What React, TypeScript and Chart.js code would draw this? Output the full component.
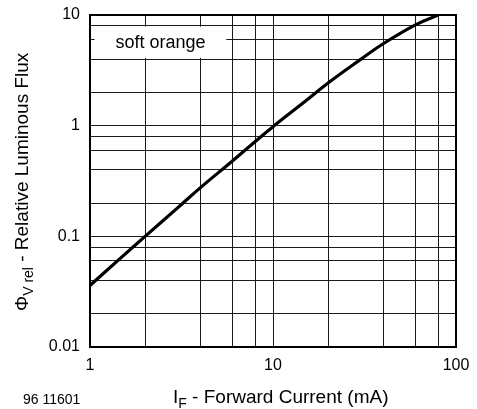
import React, { useEffect, useRef } from "react";
import { Chart, registerables } from "chart.js";

Chart.register(...registerables);

// Forward current (mA) and relative luminous flux
const currentMA = [1, 1.5, 2, 3, 4, 6, 8, 10, 15, 20, 30, 40, 60, 80];
const relFlux = [0.036, 0.0655, 0.1, 0.18, 0.274, 0.48, 0.72, 0.98, 1.66, 2.43, 3.95, 5.5, 8.15, 10];

// Grid lines and labelled ticks
const xGridValues = [1, 2, 4, 6, 8, 10, 20, 40, 60, 80, 100];
const yGridValues = [0.01, 0.02, 0.04, 0.06, 0.08, 0.1, 0.2, 0.4, 0.6, 0.8, 1, 2, 4, 6, 8, 10];
const xTickLabels = [1, 10, 100];
const yTickLabels = [0.01, 0.1, 1, 10];

const seriesLabel = "soft orange";
const figureId = "96 11601";

const FONT = "'Liberation Sans', Arial, Helvetica, sans-serif";

export default function App() {
  const ref = useRef<HTMLCanvasElement | null>(null);

  useEffect(() => {
    const canvas = ref.current;
    if (!canvas) return;

    const overlay = {
      id: "overlay",
      beforeDatasetsDraw(chart: any) {
        const { ctx, scales } = chart;
        const x = scales.x;
        const y = scales.y;
        const left = x.getPixelForValue(1.06);
        const right = x.getPixelForValue(5.55);
        const top = y.getPixelForValue(7.85);
        const bottom = y.getPixelForValue(4.1);
        ctx.save();
        ctx.fillStyle = "#fff";
        ctx.fillRect(left, top, right - left, bottom - top);
        ctx.fillStyle = "#000";
        ctx.font = `18px ${FONT}`;
        ctx.textAlign = "center";
        ctx.textBaseline = "alphabetic";
        ctx.fillText(seriesLabel, (left + right) / 2, (top + bottom) / 2 + 6);
        ctx.restore();
      },
      afterDatasetsDraw(chart: any) {
        const { ctx, chartArea } = chart;
        ctx.save();
        ctx.strokeStyle = "#000";
        ctx.lineWidth = 2;
        ctx.strokeRect(chartArea.left, chartArea.top, chartArea.right - chartArea.left, chartArea.bottom - chartArea.top);
        ctx.restore();
      },
      afterDraw(chart: any) {
        const { ctx } = chart;
        ctx.save();
        ctx.fillStyle = "#000";
        ctx.textBaseline = "alphabetic";
        ctx.textAlign = "left";

        // X title: I_F - Forward Current (mA)
        let cx = 173;
        const by = 403;
        ctx.font = `19px ${FONT}`;
        ctx.fillText("I", cx, by);
        cx += ctx.measureText("I").width;
        ctx.font = `14px ${FONT}`;
        ctx.fillText("F", cx, by + 5);
        cx += ctx.measureText("F").width;
        ctx.font = `19px ${FONT}`;
        ctx.fillText(" - Forward Current (mA)", cx, by);

        // Figure id
        ctx.font = `14px ${FONT}`;
        ctx.fillText(figureId, 23, 404);

        // Y title rotated
        ctx.save();
        ctx.translate(27.5, 311);
        ctx.rotate(-Math.PI / 2);
        let tx = 0;
        ctx.font = `19px ${FONT}`;
        ctx.fillText("\u03A6", tx, 0);
        tx += ctx.measureText("\u03A6").width;
        ctx.font = `14px ${FONT}`;
        ctx.fillText("V rel", tx, 5);
        tx += ctx.measureText("V rel").width;
        ctx.font = `19px ${FONT}`;
        ctx.fillText(" - Relative Luminous Flux", tx, 0);
        ctx.restore();

        ctx.restore();
      },
    };

    const chart = new Chart(canvas, {
      type: "line",
      data: {
        datasets: [
          {
            label: seriesLabel,
            data: currentMA.map((v, i) => ({ x: v, y: relFlux[i] })),
            borderColor: "#000",
            borderWidth: 3.2,
            pointRadius: 0,
            tension: 0.4,
            fill: false,
          },
        ],
      },
      options: {
        animation: false,
        responsive: false,
        layout: { padding: { top: 15, right: 21, left: 0, bottom: 0 } },
        plugins: { legend: { display: false }, tooltip: { enabled: false } },
        scales: {
          x: {
            type: "logarithmic",
            min: 1,
            max: 100,
            afterBuildTicks: (s: any) => {
              s.ticks = xGridValues.map((v) => ({ value: v }));
            },
            afterFit: (s: any) => {
              s.height = 62;
              s.paddingLeft = 0;
              s.paddingRight = 0;
              s.paddingTop = 0;
              s.paddingBottom = 0;
            },
            ticks: {
              autoSkip: false,
              maxRotation: 0,
              padding: 9,
              color: "#000",
              font: { family: FONT, size: 16 },
              callback: (v: any) => (xTickLabels.includes(Number(v)) ? String(v) : ""),
            },
            grid: { color: "#1a1a1a", lineWidth: 1, drawTicks: false },
            border: { display: false },
          },
          y: {
            type: "logarithmic",
            min: 0.01,
            max: 10,
            afterBuildTicks: (s: any) => {
              s.ticks = yGridValues.map((v) => ({ value: v }));
            },
            afterFit: (s: any) => {
              s.width = 90;
              s.paddingLeft = 0;
              s.paddingRight = 0;
              s.paddingTop = 0;
              s.paddingBottom = 0;
            },
            ticks: {
              autoSkip: false,
              padding: 10,
              color: "#000",
              font: { family: FONT, size: 16 },
              callback: (v: any) => (yTickLabels.includes(Number(v)) ? String(v) : ""),
            },
            grid: { color: "#1a1a1a", lineWidth: 1, drawTicks: false },
            border: { display: false },
          },
        },
      },
      plugins: [overlay],
    } as any);

    return () => chart.destroy();
  }, []);

  return (
    <div style={{ position: "fixed", left: 0, top: 0, width: 477, height: 409, background: "#fff" }}>
      <canvas ref={ref} width={477} height={409} style={{ display: "block" }} />
    </div>
  );
}
